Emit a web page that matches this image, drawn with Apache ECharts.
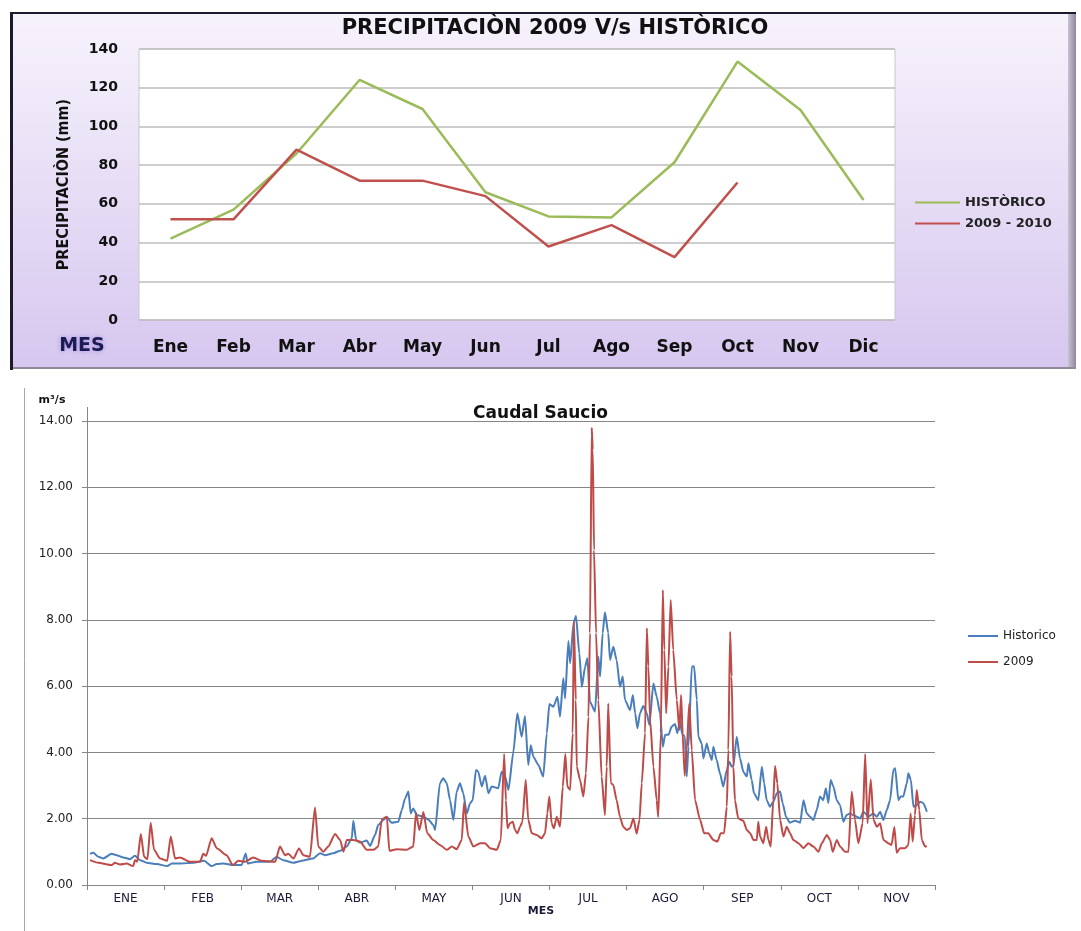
<!DOCTYPE html>
<html>
<head>
<meta charset="utf-8">
<script src="https://cdn.jsdelivr.net/npm/echarts@6.0.0/dist/echarts.min.js"></script>
<style>
html,body{margin:0;padding:0;background:#fff;}
#chart{width:1081px;height:931px;}
</style>
</head>
<body>
<div id="chart"></div>
<script>
// ---- Top chart: monthly precipitation (mm) ----
const meses = ['Ene','Feb','Mar','Abr','May','Jun','Jul','Ago','Sep','Oct','Nov','Dic'];
const precipHistorico = [42, 57, 86, 124, 109, 66, 53.5, 53, 81.5, 133.5, 108.5, 62];
const precip2009 = [52, 52, 88, 72, 72, 64, 38, 49, 32.5, 71, null, null];

// ---- Bottom chart: daily flow Saucio (m3/s), x = day of year (0..334) ----
const mesesCaudal = ['ENE','FEB','MAR','ABR','MAY','JUN','JUL','AGO','SEP','OCT','NOV'];
const histDays = [1.2,2.5,4.5,6.4,9.7,11.7,14.3,16.9,18.9,20.9,23.5,27.5,31.6,33.4,36.6,41.9,46.1,49.1,51.1,53.7,57.6,60.9,62.5,63.3,66.8,72.1,74.7,77.3,81.3,83.9,89.1,91.8,93.7,97.0,99.7,102.3,104.3,104.9,106.0,107.5,110.2,111.5,113.4,114.7,116.7,118.1,120.0,122.6,124.0,125.3,126.6,127.5,128.5,129.9,132.5,134.4,136.4,137.1,139.0,140.3,141.7,143.0,144.3,145.6,146.9,148.2,149.6,150.9,151.9,153.2,154.1,155.5,156.8,158.1,159.4,162.0,163.3,164.7,166.0,167.9,169.5,171.2,172.5,173.8,174.8,175.8,177.8,179.7,181.1,182.1,183.7,185.3,186.3,187.6,188.3,189.6,190.3,191.6,192.6,193.9,194.9,196.2,197.1,198.1,200.1,201.4,202.1,203.1,204.0,205.3,206.0,207.3,208.6,209.9,211.0,211.9,213.9,215.0,215.9,216.8,217.8,219.1,220.5,221.5,223.1,224.4,225.7,226.8,227.7,229.0,230.3,231.6,232.5,233.6,234.3,235.5,236.2,236.9,238.2,239.1,240.2,240.8,242.1,242.8,244.1,245.1,246.1,246.7,248.0,249.3,250.6,252.0,253.0,253.9,254.6,255.9,257.2,258.5,259.9,260.5,261.8,262.7,264.4,265.8,266.7,267.7,269.0,270.3,271.7,273.0,274.0,275.3,276.9,278.9,280.9,282.2,283.5,284.8,286.1,287.4,288.7,290.0,291.0,292.0,292.9,294.0,295.3,296.6,297.9,299.2,300.5,301.8,303.2,304.5,305.8,307.8,309.7,311.1,312.4,313.7,315.0,316.3,317.6,318.3,319.6,320.5,321.5,322.9,323.5,324.5,325.5,326.8,328.1,329.4,330.8];
const histFlow = [0.94,0.97,0.85,0.80,0.94,0.90,0.83,0.78,0.88,0.75,0.67,0.63,0.57,0.65,0.65,0.67,0.73,0.57,0.63,0.65,0.60,0.60,0.95,0.65,0.70,0.70,0.85,0.75,0.67,0.72,0.80,0.96,0.90,0.96,1.03,1.16,1.41,1.94,1.36,1.28,1.34,1.18,1.50,1.81,1.96,2.05,1.88,1.91,2.26,2.62,2.82,2.16,2.31,2.11,2.06,1.98,1.81,1.66,3.07,3.22,3.07,2.56,1.96,2.82,3.07,2.77,2.16,2.47,2.56,3.47,3.42,2.97,3.30,2.77,2.97,2.92,3.42,3.27,2.87,4.00,5.18,4.47,5.10,3.62,4.22,3.87,3.62,3.27,4.58,5.46,5.38,5.68,5.08,6.24,5.63,7.36,6.69,7.90,8.12,6.99,5.98,6.59,6.84,5.53,5.23,6.89,6.29,7.60,8.23,7.60,6.79,7.19,6.79,5.98,6.29,5.58,5.28,5.73,5.18,4.73,5.18,5.40,5.18,4.83,6.08,5.68,5.18,4.17,4.53,4.53,4.78,4.86,4.58,4.98,4.58,4.47,3.27,4.17,6.59,6.60,5.58,4.47,4.27,3.82,4.27,3.97,3.77,4.17,3.77,3.37,2.97,3.47,3.72,3.57,3.60,4.47,3.82,3.42,3.27,3.67,3.17,2.77,2.56,3.57,3.07,2.56,2.36,2.51,2.77,2.82,2.47,2.06,1.88,1.94,1.88,2.56,2.16,2.06,1.96,2.26,2.67,2.56,2.92,2.47,3.17,2.97,2.56,2.41,1.91,2.11,2.16,2.11,2.06,2.01,2.21,2.06,2.16,2.06,2.21,1.96,2.26,2.56,3.47,3.52,2.56,2.67,2.67,3.07,3.37,3.17,2.36,2.41,2.51,2.47,2.21];
const days2009 = [1.2,4.5,9.7,11.0,13.0,15.6,18.2,18.9,19.8,21.2,22.5,23.8,25.1,26.4,28.8,31.6,33.0,34.7,36.6,40.6,44.5,45.8,46.9,49.1,51.1,55.0,57.4,59.6,62.2,65.5,68.8,74.1,76.0,78.0,79.3,81.3,83.5,85.2,87.8,89.8,91.1,93.1,95.0,97.7,99.7,101.0,102.3,104.9,107.5,110.2,112.8,114.7,116.1,118.1,119.1,122.0,125.9,128.5,129.6,130.9,132.5,134.0,136.4,139.0,141.7,143.7,145.6,147.6,148.5,150.2,152.2,154.8,156.8,158.7,161.4,163.0,164.3,165.0,165.6,166.6,167.7,168.6,169.5,170.6,171.5,172.8,173.8,175.2,177.1,179.1,180.4,181.3,182.1,183.0,183.9,185.0,186.3,187.4,188.4,189.2,190.3,191.3,191.8,192.5,192.9,194.2,195.5,196.5,197.5,198.1,198.8,199.2,199.7,200.5,201.4,202.7,204.0,204.7,205.3,206.3,207.3,208.6,209.9,211.2,212.6,213.9,215.2,216.5,217.6,218.5,219.8,220.5,221.1,221.8,223.1,224.4,225.0,226.0,226.8,227.4,228.1,229.0,229.9,230.9,232.3,233.3,234.0,234.6,235.4,236.2,237.2,238.2,239.5,241.5,243.1,244.7,246.7,248.3,249.6,250.9,252.0,252.6,253.3,253.9,254.6,255.2,256.5,258.5,259.9,261.2,262.5,263.8,264.4,265.1,266.4,267.5,268.4,269.3,270.3,271.0,271.9,273.0,274.3,275.6,276.9,278.2,280.2,282.2,284.1,286.1,288.1,289.4,291.4,292.7,293.7,295.3,296.6,298.6,299.9,301.2,302.5,303.8,305.5,306.5,307.4,308.7,309.8,311.1,312.4,313.7,315.6,316.9,318.0,318.9,320.2,322.2,323.5,324.4,325.2,326.1,326.8,327.8,328.8,330.1,330.8];
const flow2009 = [0.75,0.67,0.60,0.67,0.62,0.65,0.57,0.75,0.70,1.54,0.85,0.78,1.88,1.06,0.80,0.73,1.46,0.80,0.83,0.70,0.70,0.94,0.88,1.41,1.11,0.90,0.60,0.73,0.70,0.83,0.73,0.70,1.16,0.90,0.94,0.80,1.10,0.90,0.85,2.34,1.16,1.00,1.16,1.54,1.36,1.00,1.36,1.36,1.31,1.06,1.06,1.16,1.98,2.06,1.03,1.08,1.06,1.16,2.17,1.66,2.20,1.56,1.36,1.21,1.06,1.16,1.08,1.36,2.48,1.46,1.16,1.26,1.26,1.11,1.06,1.36,3.95,2.56,1.71,1.86,1.91,1.66,1.56,1.76,1.91,3.17,1.96,1.56,1.51,1.41,1.56,2.16,2.67,1.86,1.71,2.06,1.76,2.97,3.95,2.97,2.87,4.58,7.95,5.58,3.57,3.17,2.67,3.37,5.08,7.60,13.80,13.13,10.10,7.60,5.58,3.27,2.11,3.57,5.48,3.07,3.02,2.56,2.06,1.76,1.66,1.71,2.01,1.55,1.96,3.07,4.58,7.75,6.59,4.98,3.57,2.56,2.05,4.58,8.90,7.09,5.18,6.59,8.60,7.09,5.58,4.68,5.73,4.58,3.30,4.07,5.48,4.07,2.56,1.96,1.56,1.56,1.36,1.31,1.56,1.56,2.36,4.07,7.64,6.29,3.57,2.56,2.01,1.94,1.66,1.56,1.36,1.36,1.91,1.46,1.26,1.76,1.36,1.16,2.56,3.59,3.07,1.96,1.46,1.76,1.56,1.36,1.26,1.11,1.26,1.16,1.00,1.26,1.51,1.36,1.00,1.36,1.16,1.00,1.00,2.82,1.96,1.26,1.86,3.95,1.86,3.18,1.96,1.76,1.86,1.36,1.26,1.21,1.75,0.97,1.11,1.11,1.21,2.16,1.31,2.11,2.87,2.26,1.36,1.16,1.17];

const histPairs = histDays.map((d, i) => [d, histFlow[i]]);
const pairs2009 = days2009.map((d, i) => [d, flow2009[i]]);

const chart = echarts.init(document.getElementById('chart'), null, {renderer: 'canvas'});
const F = 'DejaVu Sans';

const option = {
  animation: false,
  backgroundColor: '#ffffff',
  graphic: [
    // top chart frame
    {type: 'rect', z: -10, shape: {x: 10, y: 12, width: 1064, height: 357},
      style: {fill: new echarts.graphic.LinearGradient(0, 0, 0, 1, [
        {offset: 0, color: '#F7F3FC'}, {offset: 1, color: '#D6C7EF'}])}},
    {type: 'rect', z: -9, shape: {x: 1068, y: 12, width: 8, height: 357},
      style: {fill: new echarts.graphic.LinearGradient(0, 0, 1, 0, [
        {offset: 0, color: '#C9C2D6'}, {offset: 1, color: '#8E8899'}])}},
    {type: 'line', z: -8, shape: {x1: 10, y1: 368, x2: 1076, y2: 368}, style: {stroke: '#8F8A9A', lineWidth: 2}},
    {type: 'line', z: -8, shape: {x1: 10, y1: 13, x2: 1076, y2: 13}, style: {stroke: '#1D1A2B', lineWidth: 2}},
    {type: 'line', z: -8, shape: {x1: 11.5, y1: 12, x2: 11.5, y2: 370}, style: {stroke: '#1D1A2B', lineWidth: 3}},
    {type: 'text', x: 82, y: 346, z: 10,
      style: {text: 'MES', fill: '#1C1C55', font: 'bold 19px "DejaVu Sans"', align: 'center', verticalAlign: 'middle',
        textShadowColor: '#A58CE0', textShadowBlur: 5}},
    // bottom chart decorations
    {type: 'line', shape: {x1: 24.5, y1: 388, x2: 24.5, y2: 931}, style: {stroke: '#A6A6A6', lineWidth: 1}},
    {type: 'line', shape: {x1: 87.5, y1: 407, x2: 87.5, y2: 421}, style: {stroke: '#868686', lineWidth: 1}},
    {type: 'text', x: 52, y: 400, z: 10,
      style: {text: 'm³/s', fill: '#111', font: 'bold 11px "DejaVu Sans"', align: 'center', verticalAlign: 'middle'}},
    {type: 'text', x: 541, y: 911, z: 10,
      style: {text: 'MES', fill: '#1a1a3a', font: 'bold 11px "DejaVu Sans"', align: 'center', verticalAlign: 'middle'}}
  ],
  title: [
    {text: 'PRECIPITACIÒN 2009 V/s HISTÒRICO', left: 550, textAlign: 'center', top: 13,
      textStyle: {fontFamily: F, fontWeight: 'bold', fontSize: 21, color: '#111'}},
    {text: 'Caudal Saucio', left: 'center', top: 400,
      textStyle: {fontFamily: F, fontWeight: 'bold', fontSize: 17, color: '#111'}}
  ],
  legend: [
    {orient: 'vertical', left: 910, top: 191, itemWidth: 45, itemHeight: 2, itemGap: 8, icon: 'rect',
      data: ['HISTÒRICO', '2009 - 2010'],
      textStyle: {fontFamily: F, fontWeight: 'bold', fontSize: 13, color: '#222'}},
    {orient: 'vertical', left: 963, top: 625, itemWidth: 30, itemHeight: 2, itemGap: 14, icon: 'rect',
      data: ['Historico', '2009'],
      textStyle: {fontFamily: F, fontSize: 12, color: '#222'}}
  ],
  grid: [
    {left: 139, top: 49, width: 756, height: 271, show: true, backgroundColor: '#ffffff', borderColor: '#C8C8C8', borderWidth: 1},
    {left: 87, top: 421, width: 848, height: 464}
  ],
  xAxis: [
    {gridIndex: 0, type: 'category', data: meses, boundaryGap: true,
      axisLine: {show: false}, axisTick: {show: false}, splitLine: {show: false},
      axisLabel: {margin: 19, fontFamily: F, fontWeight: 'bold', fontSize: 17, color: '#111'}},
    {gridIndex: 1, type: 'value', min: 0, max: 334, show: false, position: 'bottom'},
    {gridIndex: 1, type: 'category', data: mesesCaudal, boundaryGap: true, position: 'bottom',
      axisLine: {lineStyle: {color: '#868686', width: 1}},
      axisTick: {show: true, length: 5, lineStyle: {color: '#868686'}},
      splitLine: {show: false},
      axisLabel: {margin: 8, fontFamily: F, fontSize: 12, color: '#1a1a3a'}}
  ],
  yAxis: [
    {gridIndex: 0, type: 'value', min: 0, max: 140, interval: 20,
      axisLine: {show: false}, axisTick: {show: false},
      splitLine: {lineStyle: {color: '#BDBDBD', width: 1.5}},
      axisLabel: {margin: 21, fontFamily: F, fontWeight: 'bold', fontSize: 14, color: '#111'},
      name: 'PRECIPITACIÒN (mm)', nameLocation: 'middle', nameGap: 67, nameRotate: 90,
      nameTextStyle: {fontFamily: 'DejaVu Sans Condensed', fontWeight: 'bold', fontSize: 16, color: '#111'}},
    {gridIndex: 1, type: 'value', min: 0, max: 14, interval: 2,
      axisLine: {show: true, lineStyle: {color: '#868686', width: 1}},
      axisTick: {show: true, length: 5, lineStyle: {color: '#868686'}},
      splitLine: {lineStyle: {color: '#868686', width: 1}},
      axisLabel: {margin: 14, fontFamily: F, fontSize: 12, color: '#222', formatter: v => v.toFixed(2)}}
  ],
  series: [
    {name: 'HISTÒRICO', type: 'line', xAxisIndex: 0, yAxisIndex: 0, data: precipHistorico,
      symbol: 'none', color: '#9BBB59', lineStyle: {width: 2.5, color: '#9BBB59'}},
    {name: '2009 - 2010', type: 'line', xAxisIndex: 0, yAxisIndex: 0, data: precip2009,
      symbol: 'none', color: '#C0504D', lineStyle: {width: 2.5, color: '#C0504D'}},
    {name: 'Historico', type: 'line', xAxisIndex: 1, yAxisIndex: 1, data: histPairs,
      symbol: 'none', smooth: 0.2, smoothMonotone: 'x', color: '#4A7EBB', lineStyle: {width: 2, color: '#4A7EBB'}},
    {name: '2009', type: 'line', xAxisIndex: 1, yAxisIndex: 1, data: pairs2009,
      symbol: 'none', smooth: 0.2, smoothMonotone: 'x', color: '#BE4B48', lineStyle: {width: 2, color: '#BE4B48'}}
  ]
};
chart.setOption(option);
</script>
</body>
</html>
